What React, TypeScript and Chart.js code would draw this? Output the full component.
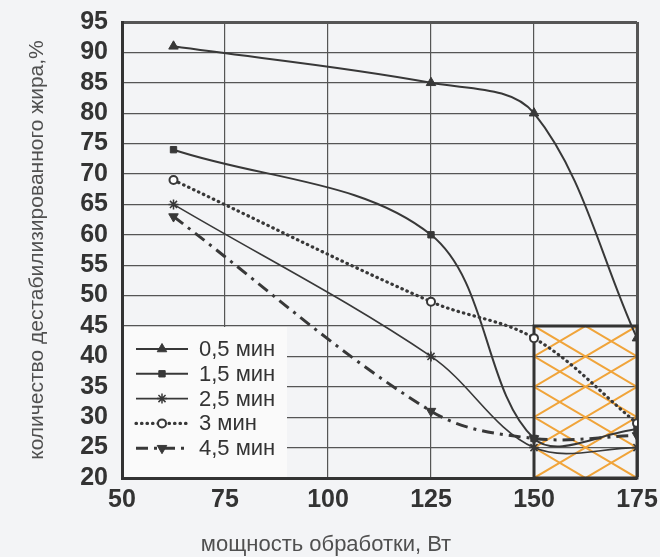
import React, { useEffect, useRef } from 'react';
import { Chart, registerables } from 'chart.js';
import { drawPoint } from 'chart.js/helpers';

Chart.register(...registerables);

// ---- data ----
const powerW = [62.5, 125, 150, 175];
const seriesLabels = ['0,5 мин', '1,5 мин', '2,5 мин', '3 мин', '4,5 мин'];
const fat05 = [91, 85, 80, 43];
const fat15 = [74, 60, 26.5, 28];
const fat25 = [65, 40, 25, 25];
const fat3 = [69, 49, 43, 29];
const fat45 = [63, 31, 26.5, 27];
const xTickValues = [50, 75, 100, 125, 150, 175];
const yTickValues = [20, 25, 30, 35, 40, 45, 50, 55, 60, 65, 70, 75, 80, 85, 90, 95];
const zoneX = [150, 175];
const zoneY = [20, 45];
const xTitle = 'мощность обработки, Вт';
const yTitle = 'количество дестабилизированного жира,%';

const INK = '#333333';
const FONT = "'Liberation Sans', Arial, sans-serif";

const bgPlugin = {
  id: 'bg',
  beforeDraw(chart: any) {
    const { ctx, width, height } = chart;
    ctx.save();
    ctx.fillStyle = '#f3f4f6';
    ctx.fillRect(0, 0, width, height);
    ctx.restore();
  },
};

const hatchPlugin = {
  id: 'hatch',
  beforeDatasetsDraw(chart: any) {
    const { ctx, scales } = chart;
    const xs = scales.x, ys = scales.y;
    const l = xs.getPixelForValue(zoneX[0]);
    const r = xs.getPixelForValue(zoneX[1]);
    const t = ys.getPixelForValue(zoneY[1]);
    const b = ys.getPixelForValue(zoneY[0]);
    ctx.save();
    ctx.beginPath();
    ctx.rect(l, t, r - l, b - t);
    ctx.clip();
    ctx.strokeStyle = '#f0a43a';
    ctx.lineWidth = 2;
    const rise = 10;
    for (let c = zoneY[0] - rise; c <= zoneY[1] + rise; c += 5) {
      ctx.beginPath();
      ctx.moveTo(l, ys.getPixelForValue(c));
      ctx.lineTo(r, ys.getPixelForValue(c - rise));
      ctx.stroke();
      ctx.beginPath();
      ctx.moveTo(l, ys.getPixelForValue(c));
      ctx.lineTo(r, ys.getPixelForValue(c + rise));
      ctx.stroke();
    }
    ctx.restore();
    ctx.save();
    ctx.strokeStyle = INK;
    ctx.lineWidth = 3;
    ctx.strokeRect(l, t, r - l, b - t);
    ctx.restore();
  },
};

const legendPlugin = {
  id: 'innerLegend',
  afterDatasetsDraw(chart: any) {
    const { ctx, chartArea, scales } = chart;
    const x0 = chartArea.left;
    const top = scales.y.getPixelForValue(zoneY[1]);
    const bottom = chartArea.bottom;
    ctx.save();
    ctx.fillStyle = '#fafafa';
    ctx.fillRect(x0 + 2, top + 1, 163, bottom - top - 2);
    chart.data.datasets.forEach((ds: any, i: number) => {
      const cy = top + 23 + i * 24.8;
      ctx.save();
      ctx.strokeStyle = ds.borderColor;
      ctx.lineWidth = ds.borderWidth;
      ctx.lineCap = ds.borderCapStyle || 'butt';
      ctx.setLineDash(ds.borderDash || []);
      ctx.beginPath();
      ctx.moveTo(x0 + 14, cy);
      ctx.lineTo(x0 + 66, cy);
      ctx.stroke();
      ctx.setLineDash([]);
      ctx.fillStyle = ds.pointBackgroundColor;
      ctx.strokeStyle = ds.pointBorderColor;
      ctx.lineWidth = ds.pointBorderWidth;
      drawPoint(ctx, { pointStyle: ds.pointStyle, rotation: ds.pointRotation || 0, radius: ds.pointRadius, borderWidth: ds.pointBorderWidth }, x0 + 40, cy);
      ctx.restore();
      ctx.fillStyle = INK;
      ctx.font = `22px ${FONT}`;
      ctx.textBaseline = 'middle';
      ctx.textAlign = 'left';
      ctx.fillText(ds.label, x0 + 77, cy + 1);
    });
    ctx.restore();
  },
};

const xTitlePlugin = {
  id: 'xTitle',
  afterDraw(chart: any) {
    const { ctx } = chart;
    ctx.save();
    ctx.fillStyle = '#505050';
    ctx.font = `22px ${FONT}`;
    ctx.textAlign = 'center';
    ctx.textBaseline = 'middle';
    ctx.fillText(xTitle, 326, 545);
    ctx.restore();
  },
};

function ds(label: string, data: number[], style: any) {
  return {
    label,
    data: powerW.map((x, i) => ({ x, y: data[i] })),
    borderColor: '#383838',
    pointBackgroundColor: '#383838',
    pointBorderColor: '#383838',
    pointBorderWidth: 1,
    tension: 0.35,
    fill: false,
    ...style,
  };
}

export default function App() {
  const ref = useRef<HTMLCanvasElement>(null);
  useEffect(() => {
    if (!ref.current) return;
    const chart = new Chart(ref.current, {
      type: 'line',
      data: {
        datasets: [
          ds(seriesLabels[0], fat05, { borderWidth: 2, pointStyle: 'triangle', pointRadius: 5.5 }),
          ds(seriesLabels[1], fat15, { borderWidth: 2, pointStyle: 'rect', pointRadius: 4.5 }),
          ds(seriesLabels[2], fat25, { borderWidth: 1.6, pointStyle: 'star', pointRadius: 5, pointBorderWidth: 1.5 }),
          ds(seriesLabels[3], fat3, { borderWidth: 3.2, borderDash: [0.5, 5], borderCapStyle: 'round', pointStyle: 'circle', pointRadius: 4, pointBackgroundColor: '#ffffff', pointBorderWidth: 2 }),
          ds(seriesLabels[4], fat45, { borderWidth: 3, borderDash: [12, 6, 3, 6], pointStyle: 'triangle', pointRotation: 180, pointRadius: 5.5 }),
        ],
      },
      options: {
        responsive: false,
        animation: false,
        layout: { padding: { top: 22, right: 23, left: 0, bottom: 0 } },
        plugins: { legend: { display: false }, tooltip: { enabled: false } },
        scales: {
          x: {
            type: 'linear',
            min: 50,
            max: 175,
            afterBuildTicks: (s: any) => { s.ticks = xTickValues.map((v) => ({ value: v })); },
            afterFit: (s: any) => { s.height = 79; },
            ticks: { color: INK, font: { family: FONT, size: 25, weight: 'bold', lineHeight: 1.6 }, padding: 2, maxRotation: 0, autoSkip: false },
            grid: {
              color: '#555',
              lineWidth: (c: any) => (c.tick && c.tick.value === 175 ? 3 : 1.2),
              drawTicks: false,
            },
            border: { display: true, color: INK, width: 3 },
          },
          y: {
            type: 'linear',
            min: 20,
            max: 95,
            afterBuildTicks: (s: any) => { s.ticks = yTickValues.map((v) => ({ value: v })); },
            afterFit: (s: any) => { s.width = 122; },
            ticks: { color: INK, font: { family: FONT, size: 25, weight: 'bold', lineHeight: 0.6 }, padding: 14, autoSkip: false },
            grid: {
              color: '#555',
              lineWidth: (c: any) => (c.tick && c.tick.value === 95 ? 3 : 1.2),
              drawTicks: false,
            },
            border: { display: true, color: INK, width: 3 },
            title: {
              display: true,
              text: yTitle,
              color: '#505050',
              font: { family: FONT, size: 21 },
              padding: { top: 25, bottom: 0 },
            },
          },
        },
      },
      plugins: [bgPlugin, hatchPlugin, legendPlugin, xTitlePlugin],
    } as any);
    return () => chart.destroy();
  }, []);
  return (
    <div style={{ position: 'absolute', left: 0, top: 0, width: 660, height: 557 }}>
      <canvas ref={ref} width={660} height={557} style={{ display: 'block' }} />
    </div>
  );
}
